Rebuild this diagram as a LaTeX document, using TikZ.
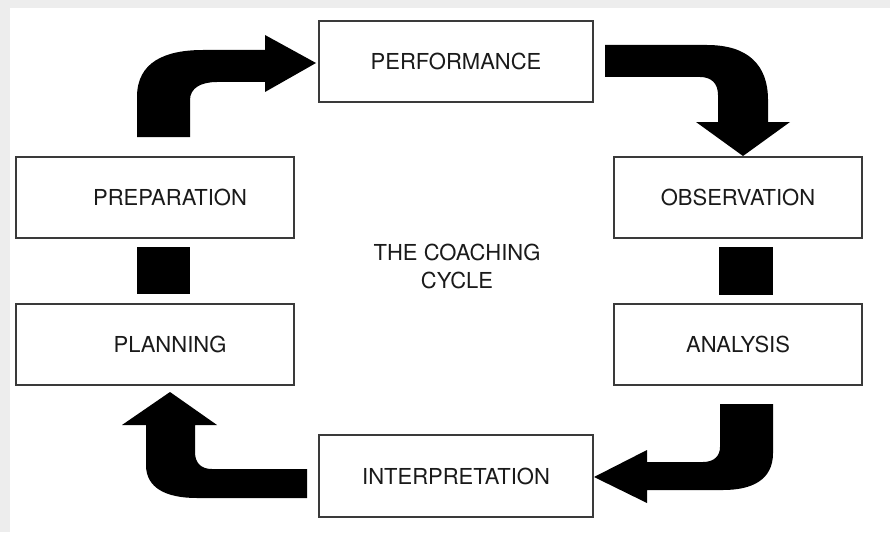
\documentclass[tikz,border=0pt]{standalone}
\usepackage{fontspec}
\setmainfont{TeX Gyre Heros}
\definecolor{boxgray}{HTML}{3A3A3A}
\definecolor{txt}{HTML}{1A1A1A}
\definecolor{frame}{HTML}{EDEDED}
\begin{document}
\begin{tikzpicture}[x=1pt,y=-1pt,
  box/.style={draw=boxgray,line width=1.4pt,fill=white,inner sep=0pt,
    font=\fontsize{22}{26}\selectfont,text=txt},
  bigarrow/.style={fill=black,draw=none},
  blocksq/.style={fill=black,draw=none}]
\useasboundingbox (0,0) rectangle (890,532);
\fill[frame] (0,0) rectangle (890,532);
\fill[white] (10,8) rectangle (890,532);

% boxes
\node[box,minimum width=274pt,minimum height=81pt] (perf) at (456,61.5) {PERFORMANCE};
\node[box,minimum width=278pt,minimum height=81pt] (prep) at (155,197.5) {\hspace*{30pt}PREPARATION};
\node[box,minimum width=278pt,minimum height=81pt] (plan) at (155,344.5) {\hspace*{30pt}PLANNING};
\node[box,minimum width=248pt,minimum height=81pt] (obs) at (738,197.5) {OBSERVATION};
\node[box,minimum width=248pt,minimum height=81pt] (anal) at (738,344.5) {ANALYSIS};
\node[box,minimum width=274pt,minimum height=82pt] (interp) at (456,476) {INTERPRETATION};

% centre label
\node[font=\fontsize{22}{28}\selectfont,text=txt,align=center,inner sep=0pt] (title) at (457,266) {THE COACHING\\CYCLE};

% connecting squares
\fill[blocksq] (137,247) rectangle (190,294);
\fill[blocksq] (719,247) rectangle (773,295);

% top-left curved arrow (preparation -> performance)
\fill[bigarrow] (137,137) -- (137,97) .. controls (137,62) and (165,50) .. (203,50)
  -- (265,50) -- (265,35) -- (316,63) -- (265,92) -- (265,82) -- (217,82)
  .. controls (201,82) and (190,88) .. (190,100) -- (190,137) -- cycle;

% top-right curved arrow (performance -> observation)
\fill[bigarrow] (605,45) -- (707,45) .. controls (748,45) and (768,65) .. (768,100)
  -- (768,122) -- (790,122) -- (743,156) -- (696,122) -- (718,122) -- (718,95)
  .. controls (718,83) and (711,77) .. (700,77) -- (605,77) -- cycle;

% bottom-right curved arrow (analysis -> interpretation)
\fill[bigarrow] (720,404) -- (773,404) -- (773,453) .. controls (773,480) and (752,490) .. (723,490)
  -- (647,490) -- (647,503) -- (594,477) -- (647,450) -- (647,462) -- (703,462)
  .. controls (714,462) and (720,456) .. (720,447) -- cycle;

% bottom-left curved arrow (interpretation -> planning)
\fill[bigarrow] (307,469) -- (307,498) -- (197,498) .. controls (166,498) and (146,488) .. (146,465)
  -- (146,425) -- (122,425) -- (170,392) -- (217,425) -- (195,425) -- (195,452)
  .. controls (195,463) and (201,469) .. (212,469) -- cycle;
\end{tikzpicture}
\end{document}
